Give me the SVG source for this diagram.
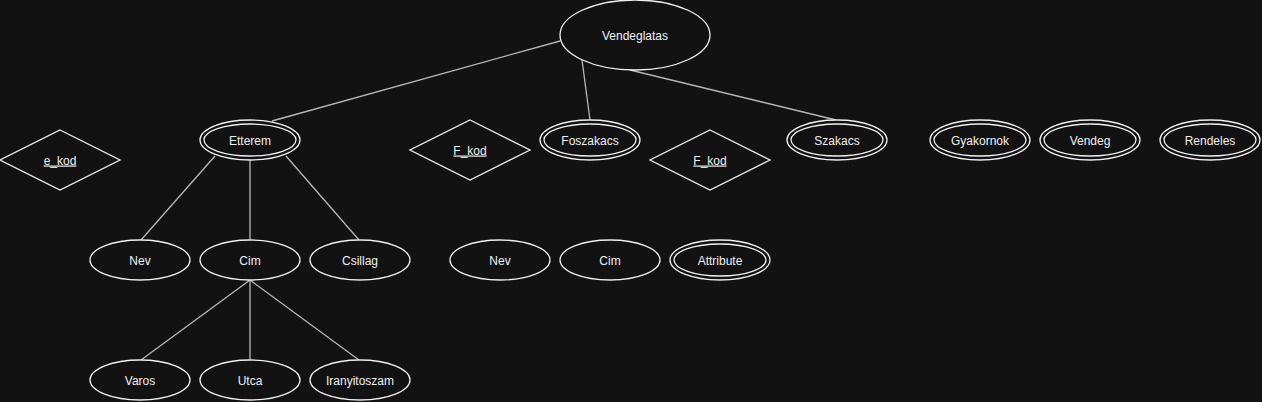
<svg xmlns="http://www.w3.org/2000/svg" width="1262" height="402" viewBox="0 0 1262 402">
<style>
.shape{fill:#121212;stroke:#f0f0f0;stroke-width:1.3}
.edge{stroke:#b8b8b8;stroke-width:1.3;fill:none}
.lbl{font-family:"Liberation Sans",Arial,sans-serif;font-size:12px;fill:#f0f0f0;text-anchor:middle}
.key{text-decoration:underline}
</style>
<rect width="1262" height="402" fill="#121212"/>
<g id="connectors">
<line class="edge" x1="560" y1="41" x2="272" y2="121"/>
<line class="edge" x1="582" y1="60" x2="590" y2="120"/>
<line class="edge" x1="630" y1="70" x2="836" y2="120"/>
<line class="edge" x1="215" y1="156" x2="141" y2="240"/>
<line class="edge" x1="250" y1="160" x2="250" y2="240"/>
<line class="edge" x1="286" y1="156" x2="359" y2="240"/>
<line class="edge" x1="250" y1="280" x2="141" y2="360"/>
<line class="edge" x1="250" y1="280" x2="250" y2="360"/>
<line class="edge" x1="250" y1="280" x2="359" y2="360"/>
</g>
<g id="vendeglatas"><ellipse class="shape" cx="635" cy="35" rx="75" ry="35"/><text class="lbl" x="635" y="39.5">Vendeglatas</text></g>
<g id="e_kod"><polygon class="shape" points="60,130 120,160 60,190 0,160"/><text class="lbl key" x="60" y="164.5">e_kod</text></g>
<g id="etterem"><ellipse class="shape" cx="250" cy="140" rx="50" ry="20"/><ellipse class="shape" cx="250" cy="140" rx="46" ry="16"/><text class="lbl" x="250" y="144.5">Etterem</text></g>
<g id="f_kod1"><polygon class="shape" points="470,120 530,150 470,180 410,150"/><text class="lbl key" x="470" y="154.5">F_kod</text></g>
<g id="foszakacs"><ellipse class="shape" cx="590" cy="140" rx="50" ry="20"/><ellipse class="shape" cx="590" cy="140" rx="46" ry="16"/><text class="lbl" x="590" y="144.5">Foszakacs</text></g>
<g id="f_kod2"><polygon class="shape" points="710,130 770,160 710,190 650,160"/><text class="lbl key" x="710" y="164.5">F_kod</text></g>
<g id="szakacs"><ellipse class="shape" cx="837" cy="140" rx="50" ry="20"/><ellipse class="shape" cx="837" cy="140" rx="46" ry="16"/><text class="lbl" x="837" y="144.5">Szakacs</text></g>
<g id="gyakornok"><ellipse class="shape" cx="980" cy="140" rx="50" ry="20"/><ellipse class="shape" cx="980" cy="140" rx="46" ry="16"/><text class="lbl" x="980" y="144.5">Gyakornok</text></g>
<g id="vendeg"><ellipse class="shape" cx="1090" cy="140" rx="50" ry="20"/><ellipse class="shape" cx="1090" cy="140" rx="46" ry="16"/><text class="lbl" x="1090" y="144.5">Vendeg</text></g>
<g id="rendeles"><ellipse class="shape" cx="1210" cy="140" rx="50" ry="20"/><ellipse class="shape" cx="1210" cy="140" rx="46" ry="16"/><text class="lbl" x="1210" y="144.5">Rendeles</text></g>
<g id="nev1"><ellipse class="shape" cx="140" cy="260" rx="50" ry="20"/><text class="lbl" x="140" y="264.5">Nev</text></g>
<g id="cim1"><ellipse class="shape" cx="250" cy="260" rx="50" ry="20"/><text class="lbl" x="250" y="264.5">Cim</text></g>
<g id="csillag"><ellipse class="shape" cx="360" cy="260" rx="50" ry="20"/><text class="lbl" x="360" y="264.5">Csillag</text></g>
<g id="nev2"><ellipse class="shape" cx="500" cy="260" rx="50" ry="20"/><text class="lbl" x="500" y="264.5">Nev</text></g>
<g id="cim2"><ellipse class="shape" cx="610" cy="260" rx="50" ry="20"/><text class="lbl" x="610" y="264.5">Cim</text></g>
<g id="attribute"><ellipse class="shape" cx="720" cy="260" rx="50" ry="20"/><ellipse class="shape" cx="720" cy="260" rx="46" ry="16"/><text class="lbl" x="720" y="264.5">Attribute</text></g>
<g id="varos"><ellipse class="shape" cx="140" cy="380" rx="50" ry="20"/><text class="lbl" x="140" y="384.5">Varos</text></g>
<g id="utca"><ellipse class="shape" cx="250" cy="380" rx="50" ry="20"/><text class="lbl" x="250" y="384.5">Utca</text></g>
<g id="iranyitoszam"><ellipse class="shape" cx="360" cy="380" rx="50" ry="20"/><text class="lbl" x="360" y="384.5">Iranyitoszam</text></g>
</svg>
